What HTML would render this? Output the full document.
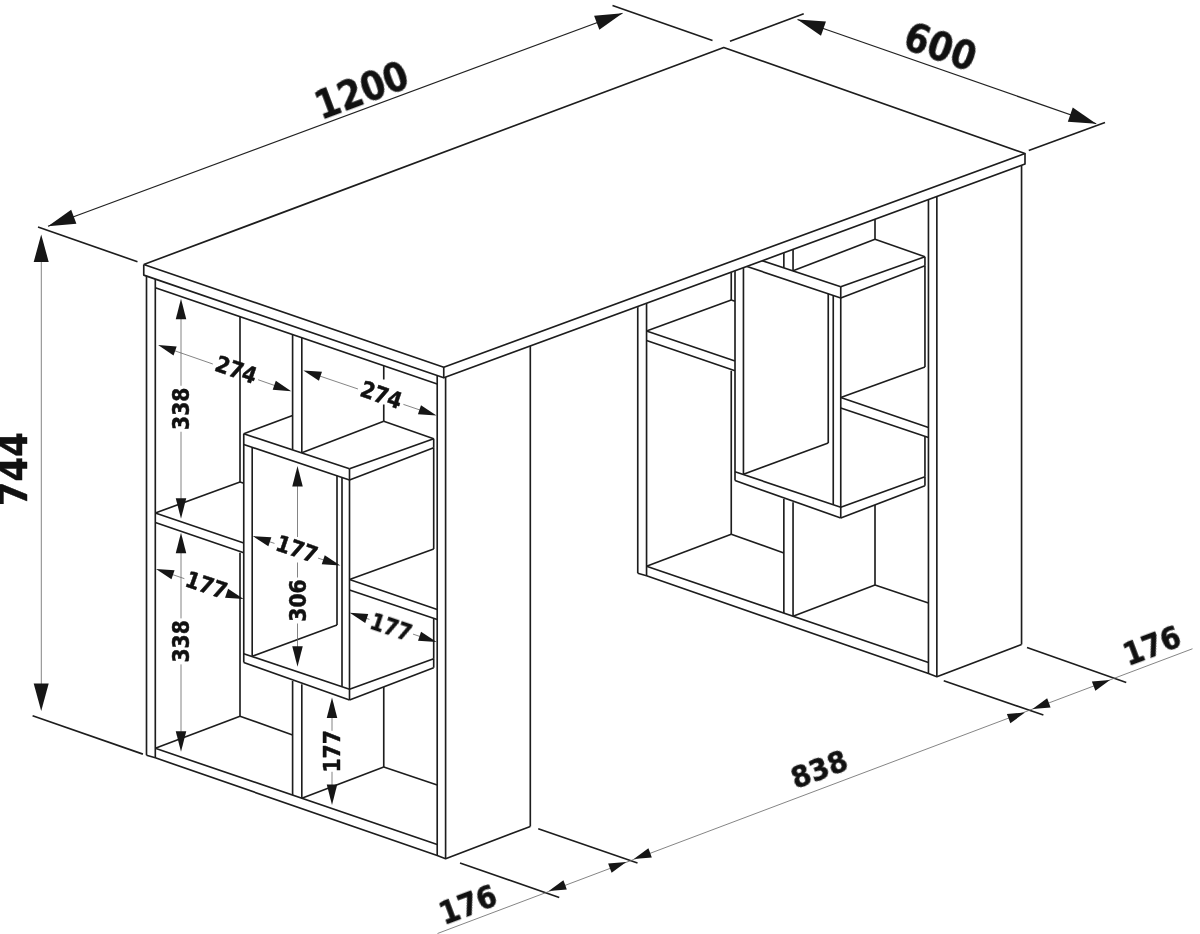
<!DOCTYPE html><html><head><meta charset="utf-8"><title>Desk dimensions</title><style>html,body{margin:0;padding:0;background:#fff}svg{display:block}</style></head><body><svg width="1200" height="934" viewBox="0 0 1200 934">
<style>
.m{stroke:#1d1d1d;stroke-width:1.65;fill:none;stroke-linecap:butt;stroke-linejoin:round}
.n{stroke:#666;stroke-width:0.8;fill:none}
.d{stroke:#222;stroke-width:1.2;fill:none}
.a{fill:#161616;stroke:none}
g.tx{opacity:0.999}
.t{stroke:#111;stroke-width:0.45;stroke-linejoin:round;font-family:"DejaVu Sans Condensed","DejaVu Sans","Liberation Sans",sans-serif;font-weight:bold;font-stretch:condensed;fill:#111}
</style>
<rect width="1200" height="934" fill="#fff"/>
<defs>
<g id="ped"><line class="m" x1="146.50" y1="275.80" x2="146.50" y2="755.30"/><line class="m" x1="155.30" y1="279.00" x2="155.30" y2="757.80"/><line class="m" x1="240.00" y1="316.80" x2="240.00" y2="482.00"/><line class="m" x1="240.00" y1="552.80" x2="240.00" y2="716.25"/><line class="m" x1="155.30" y1="513.00" x2="240.00" y2="482.00"/><line class="m" x1="240.00" y1="482.00" x2="243.75" y2="483.30"/><line class="m" x1="155.30" y1="513.00" x2="243.75" y2="543.00"/><line class="m" x1="155.30" y1="522.50" x2="243.75" y2="552.80"/><line class="m" x1="292.60" y1="334.70" x2="292.60" y2="449.80"/><line class="m" x1="301.80" y1="337.90" x2="301.80" y2="452.80"/><line class="m" x1="301.80" y1="452.80" x2="383.75" y2="421.25"/><line class="m" x1="243.75" y1="433.75" x2="349.50" y2="468.75"/><line class="m" x1="243.75" y1="444.50" x2="349.50" y2="480.00"/><line class="m" x1="243.75" y1="433.75" x2="292.60" y2="415.50"/><line class="m" x1="349.50" y1="468.75" x2="433.70" y2="438.70"/><line class="m" x1="383.75" y1="421.25" x2="433.70" y2="438.70"/><line class="m" x1="433.70" y1="438.70" x2="433.70" y2="447.70"/><line class="m" x1="349.50" y1="480.00" x2="433.70" y2="447.70"/><line class="m" x1="243.75" y1="433.75" x2="243.75" y2="662.50"/><line class="m" x1="252.20" y1="447.30" x2="252.20" y2="656.30"/><line class="m" x1="252.20" y1="656.30" x2="337.00" y2="625.00"/><line class="m" x1="337.00" y1="475.80" x2="337.00" y2="625.00"/><line class="m" x1="342.00" y1="477.50" x2="342.00" y2="686.70"/><line class="m" x1="349.50" y1="468.75" x2="349.50" y2="700.00"/><line class="m" x1="243.75" y1="653.75" x2="349.50" y2="689.25"/><line class="m" x1="243.75" y1="662.50" x2="349.50" y2="700.00"/><line class="m" x1="349.50" y1="689.25" x2="433.70" y2="658.75"/><line class="m" x1="433.70" y1="658.75" x2="433.70" y2="667.70"/><line class="m" x1="349.50" y1="700.00" x2="433.70" y2="667.70"/><line class="m" x1="433.70" y1="447.70" x2="433.70" y2="549.00"/><line class="m" x1="433.70" y1="619.00" x2="433.70" y2="658.75"/><line class="m" x1="349.50" y1="579.50" x2="433.70" y2="549.00"/><line class="m" x1="349.50" y1="579.50" x2="437.20" y2="609.50"/><line class="m" x1="349.50" y1="590.00" x2="437.20" y2="619.50"/><line class="m" x1="383.75" y1="687.00" x2="383.75" y2="767.00"/><line class="m" x1="292.60" y1="681.00" x2="292.60" y2="795.00"/><line class="m" x1="301.80" y1="684.30" x2="301.80" y2="798.20"/><line class="m" x1="155.30" y1="748.30" x2="240.00" y2="716.25"/><line class="m" x1="240.00" y1="716.25" x2="292.60" y2="735.00"/><line class="m" x1="155.30" y1="748.30" x2="437.20" y2="844.50"/><polyline class="m" points="146.50,755.30 155.30,757.80 437.20,855.50 445.60,858.75 530.30,826.50"/><line class="m" x1="301.80" y1="798.20" x2="383.75" y2="767.00"/><line class="m" x1="383.75" y1="767.00" x2="437.20" y2="785.00"/><line class="m" x1="437.20" y1="376.00" x2="437.20" y2="855.50"/><line class="m" x1="445.60" y1="377.00" x2="445.60" y2="858.75"/><line class="m" x1="530.30" y1="346.00" x2="530.30" y2="826.50"/></g>
<clipPath id="under"><polygon points="443.75,378.6 1025,164.2 1200,164.2 1200,934 443.75,934"/></clipPath>
<filter id="nf" x="0" y="0" width="1200" height="934" filterUnits="userSpaceOnUse" color-interpolation-filters="sRGB"><feOffset dx="0" dy="0"/></filter>
</defs>
<polyline class="m" points="143.75,264.50 443.75,367.20 1025.00,153.50 723.75,47.50 143.75,264.50"/>
<polyline class="m" points="143.75,264.50 143.75,275.10 443.75,377.80 1025.00,164.10 1025.00,153.50"/>
<line class="m" x1="443.75" y1="367.20" x2="443.75" y2="377.80"/>
<line class="m" x1="155.30" y1="287.80" x2="437.20" y2="384.00"/>
<use href="#ped"/>
<line class="m" x1="383.75" y1="366.00" x2="383.75" y2="379.50"/>
<line class="m" x1="383.75" y1="404.50" x2="383.75" y2="421.25"/>
<g clip-path="url(#under)"><use href="#ped" transform="translate(491.25 -182)"/><line class="m" x1="875.00" y1="180.00" x2="875.00" y2="239.25"/></g>
<line class="m" x1="38.00" y1="227.00" x2="137.50" y2="261.75"/>
<line class="m" x1="32.60" y1="715.70" x2="142.90" y2="754.10"/>
<line class="m" x1="612.50" y1="5.50" x2="712.50" y2="40.50"/>
<line class="m" x1="730.00" y1="41.25" x2="803.75" y2="13.75"/>
<line class="m" x1="1028.75" y1="150.50" x2="1105.00" y2="122.50"/>
<line class="m" x1="460.00" y1="863.00" x2="559.25" y2="897.50"/>
<line class="m" x1="538.25" y1="828.75" x2="637.50" y2="863.00"/>
<line class="m" x1="943.75" y1="680.75" x2="1043.40" y2="715.00"/>
<line class="m" x1="1027.00" y1="647.50" x2="1126.25" y2="682.50"/>
<line class="n" x1="41.30" y1="240.00" x2="41.30" y2="705.00"/>
<polygon class="a" points="41.20,234.50 48.70,262.00 33.70,262.00"/>
<polygon class="a" points="41.20,711.00 33.70,683.50 48.70,683.50"/>

<line class="d" x1="48.00" y1="226.25" x2="622.50" y2="13.25"/>
<polygon class="a" points="48.00,226.25 71.18,209.66 76.39,223.72"/>
<polygon class="a" points="622.50,13.25 599.32,29.84 594.11,15.78"/>

<line class="d" x1="797.50" y1="19.50" x2="1096.25" y2="123.75"/>
<polygon class="a" points="797.50,19.50 825.94,21.48 820.99,35.64"/>
<polygon class="a" points="1096.25,123.75 1067.81,121.77 1072.76,107.61"/>

<line class="n" x1="437.50" y1="933.50" x2="1192.50" y2="648.75"/>
<polygon class="a" points="548.75,891.00 563.40,880.25 566.85,889.42"/>
<polygon class="a" points="626.25,862.00 611.62,872.78 608.15,863.62"/>
<polygon class="a" points="633.75,859.00 648.40,848.25 651.85,857.42"/>
<polygon class="a" points="1025.00,712.50 1010.35,723.25 1006.90,714.08"/>
<polygon class="a" points="1032.50,709.00 1047.15,698.25 1050.60,707.42"/>
<polygon class="a" points="1110.00,680.00 1095.35,690.76 1091.90,681.59"/>



<line class="n" x1="181.00" y1="431.75" x2="181.00" y2="502.70"/><line class="n" x1="181.00" y1="314.75" x2="181.00" y2="385.75"/><polygon class="a" points="181.00,298.75 186.25,319.25 175.75,319.25"/><polygon class="a" points="181.00,518.70 175.75,498.20 186.25,498.20"/>
<line class="n" x1="181.00" y1="664.40" x2="181.00" y2="735.80"/><line class="n" x1="181.00" y1="548.80" x2="181.00" y2="618.40"/><polygon class="a" points="181.00,532.80 186.25,553.30 175.75,553.30"/><polygon class="a" points="181.00,751.80 175.75,731.30 186.25,731.30"/>
<line class="n" x1="297.50" y1="623.50" x2="297.50" y2="650.70"/><line class="n" x1="297.50" y1="482.00" x2="297.50" y2="537.00"/><line class="n" x1="297.50" y1="562.50" x2="297.50" y2="577.50"/><polygon class="a" points="297.50,466.00 302.75,486.50 292.25,486.50"/><polygon class="a" points="297.50,666.70 292.25,646.20 302.75,646.20"/>
<line class="n" x1="332.00" y1="771.80" x2="332.00" y2="789.00"/><line class="n" x1="332.00" y1="713.50" x2="332.00" y2="730.80"/><polygon class="a" points="332.00,697.50 337.25,718.00 326.75,718.00"/><polygon class="a" points="332.00,805.00 326.75,784.50 337.25,784.50"/>
<line class="n" x1="173.21" y1="350.25" x2="212.82" y2="364.01"/><line class="n" x1="258.16" y1="379.76" x2="276.14" y2="386.00"/><polygon class="a" points="158.10,345.00 176.66,346.42 173.54,355.39"/><polygon class="a" points="291.25,391.25 272.69,389.83 275.81,380.86"/>
<line class="n" x1="318.55" y1="375.63" x2="357.95" y2="388.98"/><line class="n" x1="403.41" y1="404.39" x2="421.35" y2="410.47"/><polygon class="a" points="303.40,370.50 321.97,371.78 318.92,380.78"/><polygon class="a" points="436.50,415.60 417.93,414.32 420.98,405.32"/>
<line class="n" x1="171.13" y1="574.10" x2="184.36" y2="578.65"/><line class="n" x1="227.87" y1="593.59" x2="228.47" y2="593.80"/><polygon class="a" points="156.00,568.90 174.57,570.26 171.48,579.24"/><polygon class="a" points="243.60,599.00 225.03,597.64 228.12,588.66"/>
<line class="n" x1="267.96" y1="541.21" x2="274.51" y2="543.42"/><line class="n" x1="318.10" y1="558.12" x2="325.14" y2="560.49"/><polygon class="a" points="252.80,536.10 271.37,537.35 268.34,546.35"/><polygon class="a" points="340.30,565.60 321.73,564.35 324.76,555.35"/>
<line class="n" x1="364.86" y1="617.83" x2="369.46" y2="619.39"/><line class="n" x1="413.04" y1="634.13" x2="421.44" y2="636.97"/><polygon class="a" points="349.70,612.70 368.27,613.97 365.23,622.97"/><polygon class="a" points="436.60,642.10 418.03,640.83 421.07,631.83"/>
<g filter="url(#nf)"><text class="t" font-size="39.5" transform="translate(13.40 469.20) rotate(-90)" text-anchor="middle" dominant-baseline="central">744</text><text class="t" font-size="38.5" transform="translate(361.50 90.00) rotate(-20.5)" text-anchor="middle" dominant-baseline="central">1200</text><text class="t" font-size="39" transform="translate(940.50 46.50) rotate(19.2)" text-anchor="middle" dominant-baseline="central">600</text><text class="t" font-size="31.5" transform="translate(468.00 904.50) rotate(-20.5)" text-anchor="middle" dominant-baseline="central">176</text><text class="t" font-size="31" transform="translate(819.00 769.00) rotate(-20.5)" text-anchor="middle" dominant-baseline="central">838</text><text class="t" font-size="31.5" transform="translate(1152.00 645.50) rotate(-20.5)" text-anchor="middle" dominant-baseline="central">176</text><text class="t" font-size="22.6" transform="translate(181.00 408.75) rotate(-90)" text-anchor="middle" dominant-baseline="central">338</text><text class="t" font-size="22.6" transform="translate(181.00 641.40) rotate(-90)" text-anchor="middle" dominant-baseline="central">338</text><text class="t" font-size="22.6" transform="translate(297.50 600.50) rotate(-90)" text-anchor="middle" dominant-baseline="central">306</text><text class="t" font-size="22.6" transform="translate(332.00 751.30) rotate(-90)" text-anchor="middle" dominant-baseline="central">177</text><text class="t" font-size="22.6" transform="translate(236.25 369.70) rotate(19.2)" text-anchor="middle" dominant-baseline="central">274</text><text class="t" font-size="22.6" transform="translate(381.30 394.85) rotate(18.7)" text-anchor="middle" dominant-baseline="central">274</text><text class="t" font-size="22.6" transform="translate(206.50 585.00) rotate(19.0)" text-anchor="middle" dominant-baseline="central">177</text><text class="t" font-size="22.6" transform="translate(296.90 549.00) rotate(18.6)" text-anchor="middle" dominant-baseline="central">177</text><text class="t" font-size="22.6" transform="translate(391.10 627.20) rotate(18.7)" text-anchor="middle" dominant-baseline="central">177</text></g>
</svg></body></html>
